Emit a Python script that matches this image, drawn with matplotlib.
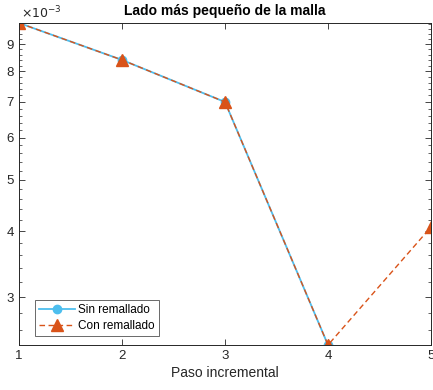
import matplotlib
matplotlib.use("Agg")
import matplotlib.pyplot as plt
from matplotlib.ticker import FixedLocator, NullFormatter

plt.rcParams['font.family'] = ['Liberation Sans', 'DejaVu Sans']

pasos_sin = [1, 2, 3, 4]
sin_remallado = [0.00986, 0.00840, 0.00700, 0.00244]
pasos_con = [1, 2, 3, 4, 5]
con_remallado = [0.00986, 0.00840, 0.00700, 0.00244, 0.00407]
yticks = [0.003, 0.004, 0.005, 0.006, 0.007, 0.008, 0.009]
ytick_labels = ['3', '4', '5', '6', '7', '8', '9']
xticks = [1, 2, 3, 4, 5]

blue = '#4DBEEE'
orange = '#D95319'
axcol = '#262626'

fig = plt.figure(figsize=(4.33, 3.90), dpi=100)
ax = fig.add_axes([19/433, 1-345/390, (431-19)/433, (345-23)/390])

ax.plot(pasos_sin, sin_remallado, '-', color=blue, lw=1.3, marker='o', ms=6,
        mfc=blue, mec=blue, label='Sin remallado')
ax.plot(pasos_con, con_remallado, '--', color=orange, lw=1.0, marker='^', ms=8,
        mfc=orange, mec=orange, label='Con remallado', dashes=(4, 2.5))

ax.set_yscale('log')
ax.set_xlim(1, 5)
ax.set_ylim(min(con_remallado), max(con_remallado))
ax.yaxis.set_major_locator(FixedLocator(yticks))
ax.set_yticklabels(ytick_labels)
minor = [v/10000 for v in range(24, 100, 2)]
ax.yaxis.set_minor_locator(FixedLocator(minor))
ax.yaxis.set_minor_formatter(NullFormatter())
ax.set_xticks(xticks)
ax.set_xticklabels([str(x) for x in xticks])

ax.tick_params(axis='both', which='both', direction='in', top=True, right=True,
               colors=axcol, labelsize=9.5, labelcolor=axcol)
ax.tick_params(which='major', length=4, width=0.6)
ax.tick_params(which='minor', length=2, width=0.5)
for s in ax.spines.values():
    s.set_color(axcol)
    s.set_linewidth(0.7)

ax.set_title('Lado más pequeño de la malla', fontsize=10, fontweight='bold', pad=6)
ax.set_xlabel('Paso incremental', fontsize=10, labelpad=3, color=axcol)
ax.text(0.005, 1.005, r'$\times10^{-3}$', transform=ax.transAxes, fontsize=9,
        ha='left', va='bottom', color=axcol)

leg = ax.legend(loc='lower left', bbox_to_anchor=(0.025, 0.01), fontsize=8.5,
                frameon=True, fancybox=False, edgecolor=axcol, handlelength=3.0,
                borderpad=0.35, labelspacing=0.3, handletextpad=0.3)
leg.get_frame().set_linewidth(0.6)

fig.savefig('out.png', dpi=100)
